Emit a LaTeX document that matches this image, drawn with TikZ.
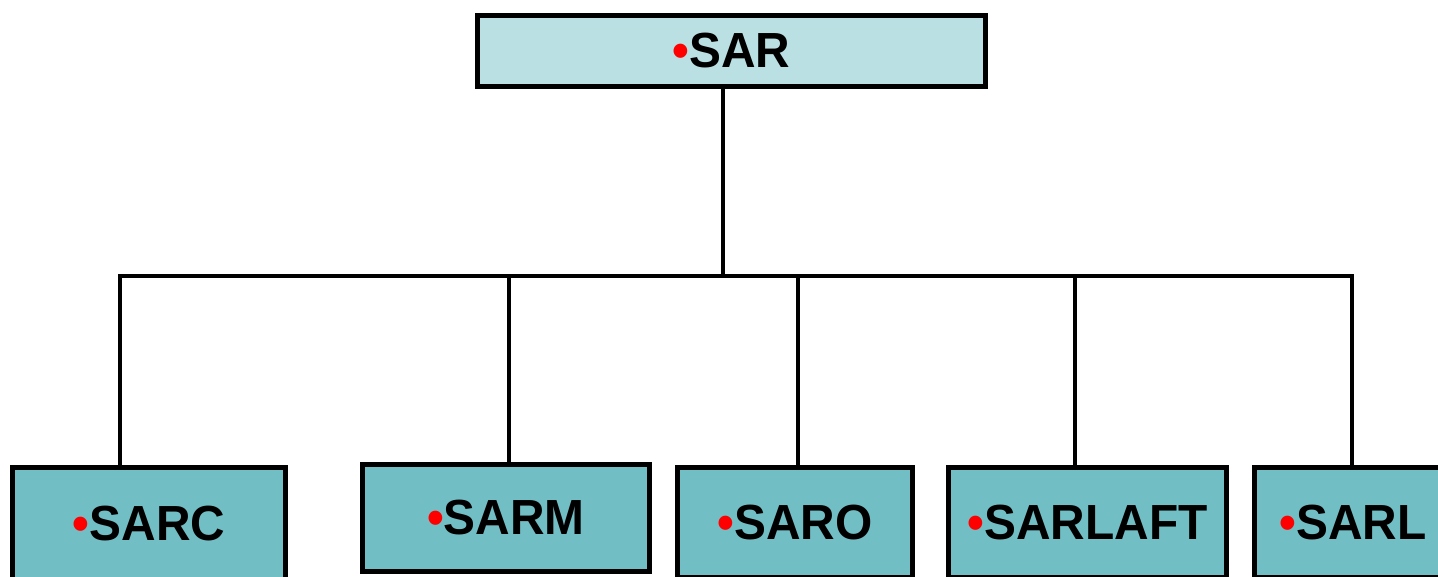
\documentclass[tikz,border=0pt]{standalone}
\usepackage{fontspec}
\setmainfont{Liberation Sans}[FakeStretch=0.97]
\definecolor{toplight}{RGB}{186,224,228}
\definecolor{teal}{RGB}{114,190,197}
\begin{document}
\begin{tikzpicture}[x=0.75pt,y=-0.75pt,
  box/.style args={#1/#2}{draw=black,line width=3.75pt,inner sep=0pt,
    minimum width=#1*0.75pt,minimum height=#2*0.75pt,
    font=\fontsize{37}{40}\selectfont\bfseries},
  topbox/.style={box=508/71,fill=toplight},
  lowbox/.style={box=#1,fill=teal},
  conn/.style={line width=3pt}]
\useasboundingbox (0,0) rectangle (1438,576);
\clip (0,0) rectangle (1438,576);
\newcommand{\rb}{\textcolor{red}{•}}
\node[topbox] (SAR) at (731.5,51) {\rb SAR};
\node[lowbox=273/112] (SARC) at (149,523.5) {\rb SARC};
\node[lowbox=287/107] (SARM) at (506,518) {\rb SARM};
\node[lowbox=235/110] (SARO) at (795,522.5) {\rb SARO};
\node[lowbox=278/110] (SARLAFT) at (1087.5,522.5) {\rb SARLAFT};
\node[lowbox=197/110] (SARL) at (1353,522.5) {\rb SARL};
\coordinate (t) at (723,276);
\coordinate (j1) at (120,276);
\coordinate (j2) at (509,276);
\coordinate (j3) at (798,276);
\coordinate (j4) at (1075,276);
\coordinate (j5) at (1352,276);
\draw[conn] (t |- SAR.south) -- (t);
\draw[conn,line cap=rect] (j1) -- (j5);
\draw[conn] (j1) -- (j1 |- SARC.north);
\draw[conn] (j2) -- (j2 |- SARM.north);
\draw[conn] (j3) -- (j3 |- SARO.north);
\draw[conn] (j4) -- (j4 |- SARLAFT.north);
\draw[conn] (j5) -- (j5 |- SARL.north);
\end{tikzpicture}
\end{document}
